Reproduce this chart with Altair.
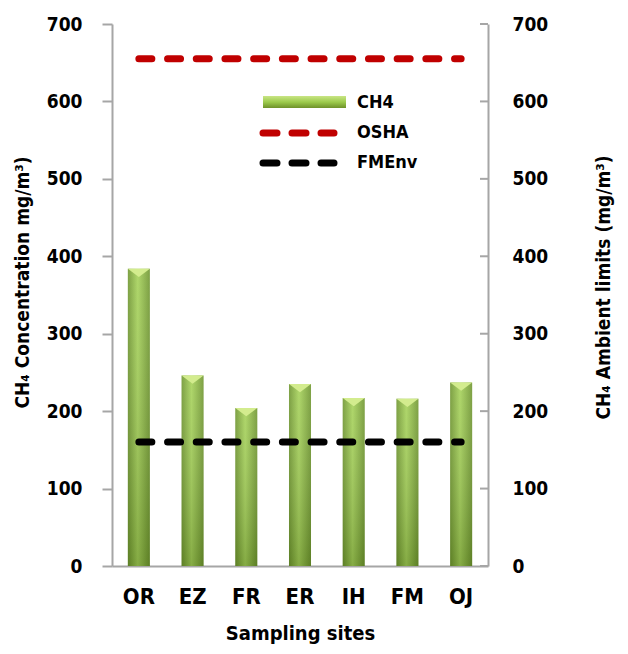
import altair as alt
import pandas as pd

# Methane concentration per sampling site and the two reference limits
sites = ["OR", "EZ", "FR", "ER", "IH", "FM", "OJ"]
ch4_conc = [384, 246, 204, 235, 217, 216, 237]
limit_names = ["OSHA", "FMEnv"]
limit_values = [655, 160]
limit_colors = ["#c00000", "#000000"]
y_ticks = [0, 100, 200, 300, 400, 500, 600, 700]

FONT = "DejaVu Sans Condensed, sans-serif"
AXIS_GREY = "#a6a6a6"
W, H = 376, 542

bars_df = pd.DataFrame({"site": sites, "ch4": ch4_conc})
limits_df = pd.DataFrame(
    [{"site": s, "limit": n, "value": v}
     for n, v in zip(limit_names, limit_values) for s in sites]
)
ticks_df = pd.DataFrame({"tick": y_ticks})

y_scale = alt.Scale(domain=[0, 700], nice=False)

x_enc = alt.X(
    "site:N", sort=sites,
    scale=alt.Scale(paddingInner=0.59, paddingOuter=0.295),
    axis=alt.Axis(
        title="Sampling sites", labelAngle=0, ticks=False,
        domainColor=AXIS_GREY, domainWidth=2,
        labelFont=FONT, labelFontSize=22, labelFontWeight="bold",
        labelColor="black", labelPadding=20,
        titleFont=FONT, titleFontSize=20, titleFontWeight="bold",
        titleColor="black", titlePadding=16,
    ),
)

bar_fill = {
    "gradient": "linear", "x1": 0, "x2": 1, "y1": 0, "y2": 0,
    "stops": [
        {"offset": 0, "color": "#6f9630"},
        {"offset": 0.45, "color": "#a6d25a"},
        {"offset": 1, "color": "#6f9630"},
    ],
}
bar_shade = {
    "gradient": "linear", "x1": 0, "x2": 0, "y1": 0, "y2": 1,
    "stops": [
        {"offset": 0, "color": "rgba(255,255,255,0.10)"},
        {"offset": 1, "color": "rgba(30,50,0,0.24)"},
    ],
}

bars = alt.Chart(bars_df).mark_bar(color=bar_fill).encode(
    x=x_enc,
    y=alt.Y(
        "ch4:Q", scale=y_scale,
        axis=alt.Axis(
            orient="left", values=y_ticks, grid=False,
            title="CH₄ Concentration mg/m³)",
            domainColor=AXIS_GREY, domainWidth=2,
            tickColor=AXIS_GREY, tickWidth=2, tickSize=10,
            labelFont=FONT, labelFontSize=19, labelFontWeight="bold",
            labelColor="black", labelPadding=20,
            titleFont=FONT, titleFontSize=19, titleFontWeight="bold",
            titleColor="black", titleAngle=270, titleAlign="center",
            titleBaseline="middle", titleX=-90, titleY=258,
        ),
    ),
)

shade = alt.Chart(bars_df).mark_bar(color=bar_shade).encode(
    x=alt.X("site:N", sort=sites),
    y=alt.Y("ch4:Q", scale=y_scale, axis=None),
)

# bevelled cap just inside each bar top
caps = alt.Chart(bars_df).mark_point(
    shape="M-1,0L1,0L0,0.75Z", filled=True, size=484,
    color="#d3ec8e", opacity=1,
).encode(
    x=alt.X("site:N", sort=sites),
    y=alt.Y("ch4:Q", scale=y_scale, axis=None),
)

limits = alt.Chart(limits_df).mark_line(
    strokeWidth=7, strokeDash=[13, 15.7], strokeCap="round"
).encode(
    x=alt.X("site:N", sort=sites),
    y=alt.Y(
        "value:Q", scale=y_scale,
        axis=alt.Axis(
            orient="right", values=y_ticks, grid=False, ticks=False,
            title="CH₄ Ambient limits (mg/m³)",
            domainColor=AXIS_GREY, domainWidth=2,
            labelFont=FONT, labelFontSize=19, labelFontWeight="bold",
            labelColor="black", labelPadding=24,
            titleFont=FONT, titleFontSize=19, titleFontWeight="bold",
            titleColor="black", titleAngle=270, titleAlign="center",
            titleBaseline="middle", titleX=115, titleY=263,
        ),
    ),
    color=alt.Color("limit:N", scale=alt.Scale(domain=limit_names, range=limit_colors), legend=None),
    detail="limit:N",
)

# inward tick marks of the right-hand axis
right_ticks = alt.Chart(ticks_df).mark_rule(color=AXIS_GREY, strokeWidth=2).encode(
    y=alt.Y("tick:Q", scale=y_scale, axis=None),
    x=alt.value(W - 8),
    x2=alt.value(W),
)

# hand-placed legend
def one_row(label):
    return alt.Data(values=[{"label": label}])

leg_bar = alt.Chart(one_row("CH4")).mark_rect(
    color={
        "gradient": "linear", "x1": 0, "x2": 0, "y1": 0, "y2": 1,
        "stops": [
            {"offset": 0, "color": "#c9e585"},
            {"offset": 0.5, "color": "#9ccb4c"},
            {"offset": 1, "color": "#6e9129"},
        ],
    }
).encode(x=alt.value(151), x2=alt.value(234), y=alt.value(72), y2=alt.value(84))

leg_osha = alt.Chart(one_row("OSHA")).mark_rule(
    color=limit_colors[0], strokeWidth=7, strokeDash=[14, 15], strokeCap="round"
).encode(x=alt.value(151), x2=alt.value(222), y=alt.value(109))

leg_fmenv = alt.Chart(one_row("FMEnv")).mark_rule(
    color=limit_colors[1], strokeWidth=7, strokeDash=[14, 15], strokeCap="round"
).encode(x=alt.value(151), x2=alt.value(222), y=alt.value(139))

leg_text = []
for label, ypos in zip(["CH4", "OSHA", "FMEnv"], [79, 109, 139]):
    leg_text.append(
        alt.Chart(one_row(label)).mark_text(
            font=FONT, fontSize=18, fontWeight="bold", color="black",
            align="left", baseline="middle",
        ).encode(text="label:N", x=alt.value(245), y=alt.value(ypos))
    )

chart = alt.layer(
    bars, shade, caps, limits, right_ticks,
    leg_bar, leg_osha, leg_fmenv, *leg_text,
).resolve_scale(y="independent").properties(
    width=W, height=H,
    autosize=alt.AutoSizeParams(type="none"),
    padding={"left": 112, "top": 24, "right": 140, "bottom": 88},
    background="white",
).configure_view(stroke=None)

chart.save("out.html", embed_options={"renderer": "svg", "actions": False})
